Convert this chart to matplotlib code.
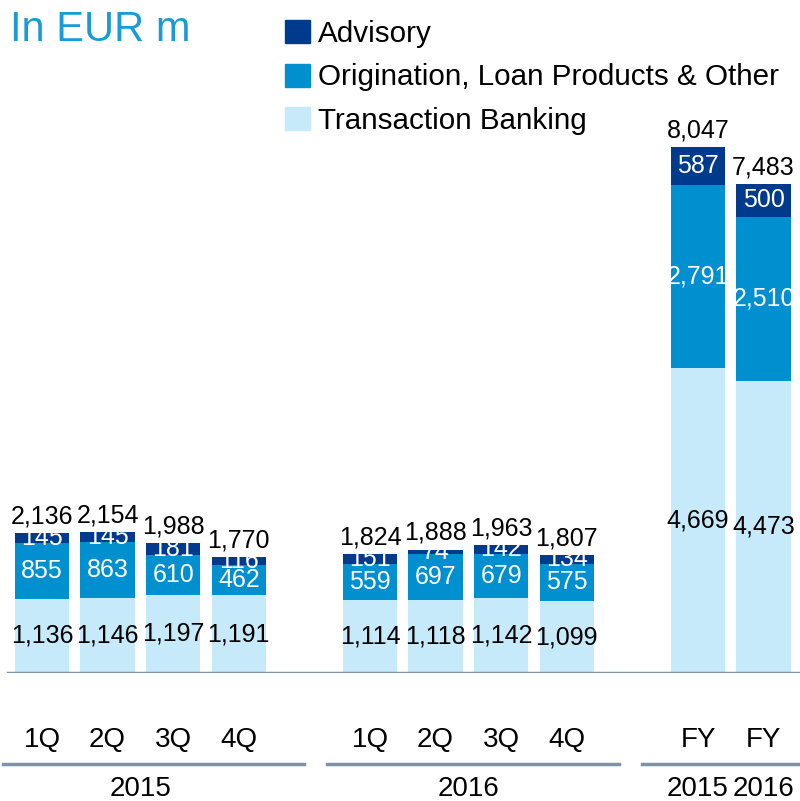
import numpy as np
import matplotlib
matplotlib.use("Agg")
import matplotlib.pyplot as plt
from matplotlib.patches import Patch

plt.rcParams['font.family'] = ['Liberation Sans', 'DejaVu Sans']

# data
quarters = ["1Q", "2Q", "3Q", "4Q", "1Q", "2Q", "3Q", "4Q", "FY", "FY"]
positions = [0, 1, 2, 3, 5, 6, 7, 8, 10, 11]
transaction = [1136, 1146, 1197, 1191, 1114, 1118, 1142, 1099, 4669, 4473]
origination = [855, 863, 610, 462, 559, 697, 679, 575, 2791, 2510]
advisory = [145, 145, 181, 116, 151, 74, 142, 134, 587, 500]
totals = [2136, 2154, 1988, 1770, 1824, 1888, 1963, 1807, 8047, 7483]
groups = ["2015", "2016", "2015", "2016"]
group_pos = [1.5, 6.5, 10, 11]
group_lines = [(-0.6, 4.0), (4.35, 8.8), (9.15, 11.6)]

c_adv = "#003A8C"
c_orig = "#0090D0"
c_trans = "#C6EAFA"

fig = plt.figure(figsize=(8, 8.01), dpi=100)
ax = fig.add_axes([0, 128 / 801, 1, 673 / 801])

x = np.array(positions)
t = np.array(transaction)
o = np.array(origination)
a = np.array(advisory)
w = 0.83

ax.bar(x, t, w, color=c_trans, linewidth=0)
ax.bar(x, o, w, bottom=t, color=c_orig, linewidth=0)
ax.bar(x, a, w, bottom=t + o, color=c_adv, linewidth=0)

fs = 18
for i in range(len(x)):
    ax.text(x[i], t[i] / 2, f"{t[i]:,}", ha="center", va="center", fontsize=fs, color="black")
    ax.text(x[i], t[i] + o[i] / 2, f"{o[i]:,}", ha="center", va="center", fontsize=fs, color="white")
    ax.text(x[i], t[i] + o[i] + a[i] / 2, f"{a[i]:,}", ha="center", va="center", fontsize=fs, color="white")
    ax.annotate(f"{totals[i]:,}", (x[i], totals[i]), xytext=(0, 12), textcoords="offset points",
                ha="center", va="center", fontsize=fs, color="black")

ax.set_xlim(-0.64, 11.555)
ax.set_ylim(0, 10295)
ax.axis("off")
ax.axhline(0, xmin=0.01, xmax=1, color="#7F93A8", lw=2.5)

tr = ax.get_xaxis_transform()
for p, q in zip(positions, quarters):
    ax.text(p, -0.1, q, transform=tr, ha="center", va="center", fontsize=20)
for (s, e) in group_lines:
    ax.plot([s, e], [-0.135, -0.135], transform=tr, color="#7F93A8", lw=2.5, clip_on=False)
for p, g in zip(group_pos, groups):
    ax.text(p, -0.172, g, transform=tr, ha="center", va="center", fontsize=20)

fig.text(10 / 800, 1 - 30 / 801, "In EUR m", color="#1A9AD6", fontsize=30, ha="left", va="center")

handles = [Patch(color=c_adv), Patch(color=c_orig), Patch(color=c_trans)]
labels = ["Advisory", "Origination, Loan Products & Other", "Transaction Banking"]
fig.legend(handles, labels, loc="upper left", bbox_to_anchor=(270 / 800, 1 - 5 / 801),
           frameon=False, fontsize=21.3, handlelength=0.85, handleheight=0.82,
           handletextpad=0.27, labelspacing=0.53, borderpad=0)

fig.savefig("out.png", dpi=100)
